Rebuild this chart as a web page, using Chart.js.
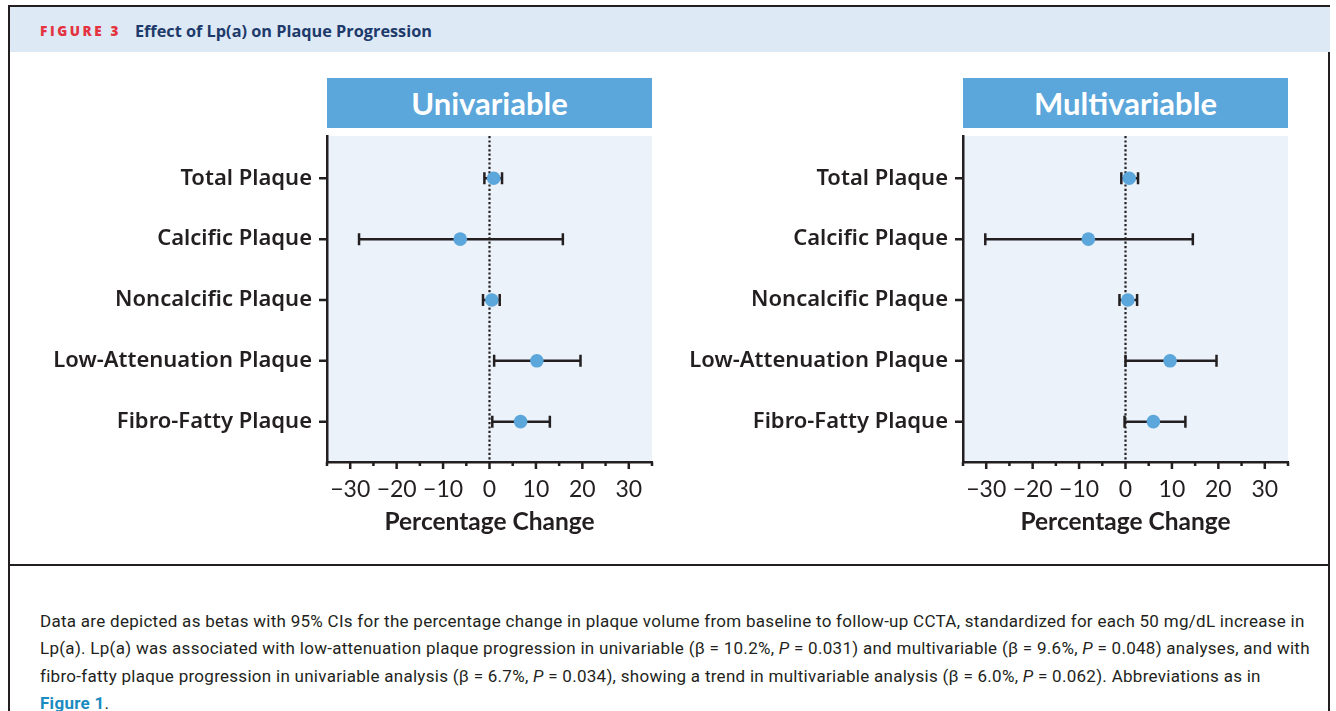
<!DOCTYPE html>
<html>
<head>
<meta charset="utf-8">
<script src="https://cdn.jsdelivr.net/npm/chart.js@4.4.1/dist/chart.umd.min.js"></script>
<style>
  html, body { margin: 0; padding: 0; background: #fff; width: 1336px; height: 711px; overflow: hidden; }
  body { position: relative; font-family: Lato, "Noto Sans", sans-serif; color: #231f20; }
  #frame { position: absolute; left: 8px; top: 5px; width: 1322px; height: 740px; border: 2px solid #231f20; box-sizing: border-box; }
  #head { position: absolute; left: 10px; top: 7px; width: 1320px; height: 45px; background: #dde9f5; }
  #head .fig { position: absolute; left: 30px; top: 15px; font: 800 13.5px "Open Sans", sans-serif; letter-spacing: 2.6px; color: #e4333f; }
  #head .ttl { position: absolute; left: 125px; top: 13px; font: bold 16.3px "Open Sans", sans-serif; color: #1d3a6b; }
  #sep { position: absolute; left: 8px; top: 564px; width: 1322px; height: 2px; background: #231f20; }
  .box { position: absolute; top: 78px; width: 325px; height: 50px; background: #5ba6da; color: #fff;
         font: bold 31px Lato, sans-serif; text-align: center; line-height: 50px; }
  .wrap { position: absolute; top: 128px; width: 668px; height: 417px; }
  #caption { position: absolute; left: 40px; top: 608px; width: 1290px; font: 17px Roboto, sans-serif; letter-spacing: 0.28px; line-height: 27.3px; color: #231f20; white-space: nowrap; }
  #caption a { color: #1a8cc0; font-weight: bold; text-decoration: none; }
</style>
</head>
<body>
<div id="frame"></div>
<div id="head"><span class="fig">FIGURE 3</span><span class="ttl">Effect of Lp(a) on Plaque Progression</span></div>
<div class="box" style="left:327px">Univariable</div>
<div class="box" style="left:963px">Multivariable</div>
<div class="wrap" style="left:0px"><canvas id="uni"></canvas></div>
<div class="wrap" style="left:636px"><canvas id="multi"></canvas></div>
<div id="sep"></div>
<div id="caption">
Data are depicted as betas with 95% CIs for the percentage change in plaque volume from baseline to follow-up CCTA, standardized for each 50 mg/dL increase in<br>
Lp(a). Lp(a) was associated with low-attenuation plaque progression in univariable (&beta; = 10.2%, <i>P</i> = 0.031) and multivariable (&beta; = 9.6%, <i>P</i> = 0.048) analyses, and with<br>
fibro-fatty plaque progression in univariable analysis (&beta; = 6.7%, <i>P</i> = 0.034), showing a trend in multivariable analysis (&beta; = 6.0%, <i>P</i> = 0.062). Abbreviations as in<br>
<a>Figure 1</a>.
</div>
<script>
// categories, top to bottom
const categories = ['Total Plaque', 'Calcific Plaque', 'Noncalcific Plaque', 'Low-Attenuation Plaque', 'Fibro-Fatty Plaque'];
const xTicks = [-30, -20, -10, 0, 10, 20, 30];
const xMinorTicks = [-35, -25, -15, -5, 5, 15, 25, 35];

// univariable: beta, lower CI, upper CI (percentage change)
const uniBeta = [0.9, -6.3, 0.5, 10.2, 6.7];
const uniLow = [-1.1, -28.1, -1.4, 1.0, 0.6];
const uniHigh = [2.7, 15.8, 2.2, 19.6, 13.0];

// multivariable
const multiBeta = [0.8, -8.0, 0.5, 9.6, 6.0];
const multiLow = [-0.9, -30.2, -1.3, 0.0, -0.2];
const multiHigh = [2.7, 14.5, 2.5, 19.6, 12.9];

const dark = '#231f20';
const blue = '#5ba6da';

const forestPlugin = {
  id: 'forest',
  beforeDraw(chart) {
    const c = chart.ctx, a = chart.chartArea;
    c.save();
    c.fillStyle = '#ebf2fa';
    c.fillRect(a.left, a.top, a.right - a.left, a.bottom - a.top);
    c.restore();
  },
  beforeDatasetsDraw(chart) {
    const c = chart.ctx, a = chart.chartArea;
    const xs = chart.scales.x, ys = chart.scales.y;
    const opts = chart.options.plugins.forest;
    c.save();
    // dotted zero line
    c.strokeStyle = dark;
    c.lineWidth = 2.2;
    c.setLineDash([2.2, 2.2]);
    const x0 = xs.getPixelForValue(0);
    c.beginPath(); c.moveTo(x0, a.top); c.lineTo(x0, a.bottom); c.stroke();
    c.setLineDash([]);
    // error bars
    c.lineWidth = 2.5;
    opts.low.forEach((lo, i) => {
      const y = ys.getPixelForValue(i);
      const xl = xs.getPixelForValue(lo), xh = xs.getPixelForValue(opts.high[i]);
      c.beginPath();
      c.moveTo(xl, y); c.lineTo(xh, y);
      c.moveTo(xl, y - 6); c.lineTo(xl, y + 6);
      c.moveTo(xh, y - 6); c.lineTo(xh, y + 6);
      c.stroke();
    });
    c.restore();
  },
  afterDraw(chart) {
    const c = chart.ctx, a = chart.chartArea;
    const xs = chart.scales.x, ys = chart.scales.y;
    c.save();
    c.strokeStyle = dark;
    c.lineWidth = 2.5;
    c.beginPath();
    xTicks.forEach(v => { const x = xs.getPixelForValue(v); c.moveTo(x, a.bottom); c.lineTo(x, a.bottom + 7); });
    xMinorTicks.forEach(v => { const x = xs.getPixelForValue(v); c.moveTo(x, a.bottom); c.lineTo(x, a.bottom + 4); });
    categories.forEach((_, i) => { const y = ys.getPixelForValue(i); c.moveTo(a.left, y); c.lineTo(a.left - 8, y); });
    c.stroke();
    c.restore();
  }
};

function makeChart(id, beta, low, high) {
  return new Chart(document.getElementById(id), {
    type: 'scatter',
    data: {
      datasets: [{
        data: beta.map((b, i) => ({ x: b, y: i })),
        backgroundColor: blue,
        borderWidth: 0,
        pointRadius: 6.8,
        pointHoverRadius: 6.8
      }]
    },
    options: {
      responsive: true,
      maintainAspectRatio: false,
      animation: false,
      events: [],
      layout: { padding: { left: 0, right: 16, top: 8, bottom: 0 } },
      plugins: {
        legend: { display: false },
        tooltip: { enabled: false },
        forest: { low: low, high: high }
      },
      scales: {
        x: {
          type: 'linear', min: -35, max: 35,
          afterBuildTicks: s => { s.ticks = xTicks.map(v => ({ value: v })); },
          afterFit: s => { s.height = 83; s.paddingLeft = 0; s.paddingRight = 0; },
          grid: { display: false, drawTicks: false },
          border: { display: true, color: dark, width: 2.5 },
          ticks: {
            padding: 14, color: dark, font: { family: 'Lato', size: 23 },
            maxRotation: 0, autoSkip: false,
            callback: v => v < 0 ? '\u2212' + Math.abs(v) : String(v)
          },
          title: {
            display: true, text: 'Percentage Change', color: dark,
            font: { family: 'Lato', size: 24.5, weight: 'bold' },
            padding: { top: 0, bottom: 8 }
          }
        },
        y: {
          type: 'linear', min: -0.695, max: 4.663, reverse: true,
          afterBuildTicks: s => { s.ticks = categories.map((_, i) => ({ value: i })); },
          afterFit: s => { s.width = 327; s.paddingTop = 0; s.paddingBottom = 0; },
          grid: { display: false, drawTicks: false },
          border: { display: true, color: dark, width: 2.5 },
          ticks: {
            padding: 15, color: dark, font: { family: 'Noto Sans', size: 22, weight: 600 },
            autoSkip: false,
            callback: v => categories[v]
          }
        }
      }
    },
    plugins: [forestPlugin]
  });
}

makeChart('uni', uniBeta, uniLow, uniHigh);
makeChart('multi', multiBeta, multiLow, multiHigh);
</script>
</body>
</html>
